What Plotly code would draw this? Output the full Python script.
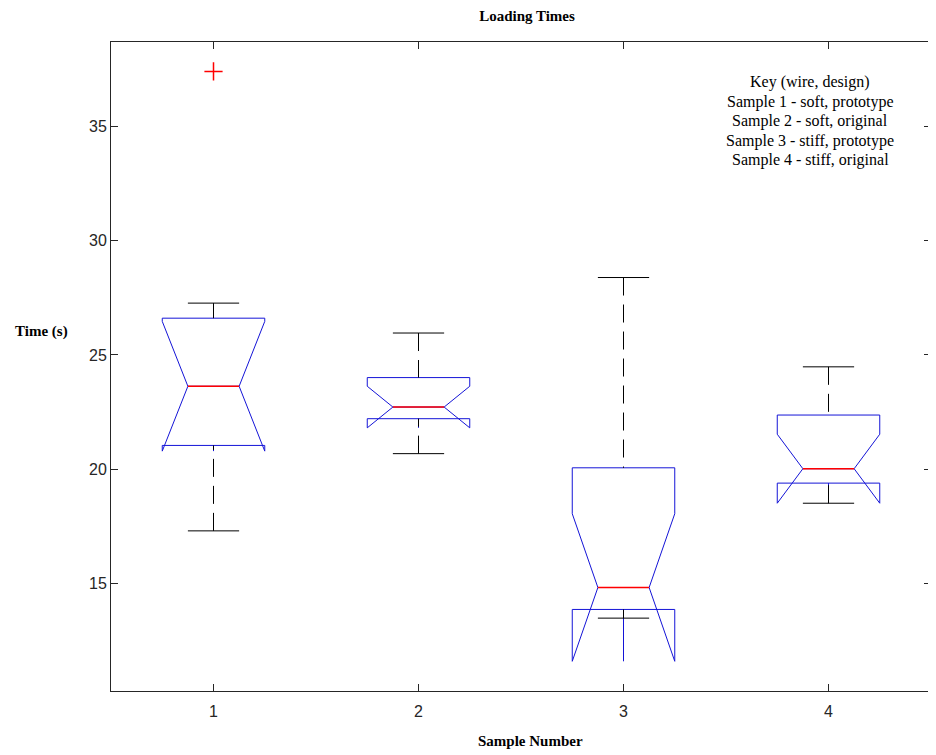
import plotly.graph_objects as go

# ---- data ----
samples = [1, 2, 3, 4]
tick_labels = ["1", "2", "3", "4"]
y_ticks = [15, 20, 25, 30, 35]
q1 = [21.04, 22.21, 13.86, 19.39]
median = [23.63, 22.72, 14.82, 20.02]
q3 = [26.61, 24.01, 20.06, 22.37]
notchspan = [2.84, 0.91, 3.23, 1.51]
lower_whisker = [17.30, 20.68, 13.48, 18.51]
upper_whisker = [27.27, 25.96, 28.39, 24.48]
outlier_x = [1]
outlier_y = [37.41]
key_lines = [
    "Key (wire, design)",
    "Sample 1 - soft, prototype",
    "Sample 2 - soft, original",
    "Sample 3 - stiff, prototype",
    "Sample 4 - stiff, original",
]

BOX_W = 0.5
HALF_NOTCH = BOX_W * 0.25
AX = "#262626"
OFF = 8  # page body margin in the rendered html

W, H = 936 - OFF, 755 - OFF
ML, MR, MT, MB = 111 - OFF, 5, 42 - OFF, 64
PW, PH = W - ML - MR, H - MT - MB

fig = go.Figure()

# blue notched boxes (built-in whiskers hidden: fences set to the quartiles)
fig.add_trace(go.Box(
    x=samples, q1=q1, median=median, q3=q3,
    lowerfence=q1, upperfence=q3, notchspan=notchspan,
    notched=True, notchwidth=0.25, width=BOX_W, whiskerwidth=0,
    line=dict(color="rgb(20,20,215)", width=1),
    fillcolor="rgba(0,0,0,0)", boxpoints=False, showlegend=False,
    hoverinfo="skip",
))

# dashed black whiskers
wx, wy = [], []
for s, a, b, lo, hi in zip(samples, q1, q3, lower_whisker, upper_whisker):
    wx += [s, s, None, s, s, None]
    wy += [hi, b, None, lo, a, None]
fig.add_trace(go.Scatter(x=wx, y=wy, mode="lines",
                         line=dict(color="black", width=1, dash="18px,9px"),
                         showlegend=False, hoverinfo="skip"))

# whisker caps
cx, cy = [], []
for s, lo, hi in zip(samples, lower_whisker, upper_whisker):
    cx += [s - HALF_NOTCH, s + HALF_NOTCH, None, s - HALF_NOTCH, s + HALF_NOTCH, None]
    cy += [hi, hi, None, lo, lo, None]
fig.add_trace(go.Scatter(x=cx, y=cy, mode="lines",
                         line=dict(color="black", width=1),
                         showlegend=False, hoverinfo="skip"))

# red medians
mx, my = [], []
for s, m in zip(samples, median):
    mx += [s - HALF_NOTCH, s + HALF_NOTCH, None]
    my += [m, m, None]
fig.add_trace(go.Scatter(x=mx, y=my, mode="lines",
                         line=dict(color="#ff0000", width=1.5),
                         showlegend=False, hoverinfo="skip"))

# outlier
fig.add_trace(go.Scatter(x=outlier_x, y=outlier_y, mode="markers",
                         marker=dict(symbol="cross-thin", size=13, color="#ff0000",
                                     line=dict(color="#ff0000", width=1.5)),
                         showlegend=False, hoverinfo="skip"))

axis_common = dict(
    showline=True, linecolor=AX, linewidth=1, mirror="allticks",
    ticks="inside", ticklen=7, tickcolor=AX, tickwidth=1,
    showgrid=False, zeroline=False,
    tickfont=dict(family="Liberation Sans, Arial", size=16, color=AX),
)

SERIF = "Liberation Serif, Times New Roman"

fig.update_layout(
    width=W, height=H,
    margin=dict(l=ML, r=MR, t=MT, b=MB),
    paper_bgcolor="white", plot_bgcolor="white",
    title=dict(text="<b>Loading Times</b>", x=(527 - OFF) / W, xanchor="center",
               y=1 - (15.7 - OFF) / H, yanchor="middle",
               font=dict(family=SERIF, size=15, color="black")),
    xaxis=dict(range=[0.5, 4.5], tickvals=samples, ticktext=tick_labels,
               ticklabelstandoff=6, **axis_common),
    yaxis=dict(range=[10.29, 38.70], tickvals=y_ticks,
               ticksuffix="\u00a0", **axis_common),
)

annotations = [
    dict(text="<b>Sample Number</b>", xref="paper", yref="paper",
         x=(530 - 111) / PW, y=-(741 - 691) / PH, xanchor="center", yanchor="middle",
         showarrow=False, font=dict(family=SERIF, size=15, color="black")),
    dict(text="<b>Time (s)</b>", xref="paper", yref="paper",
         x=(41 - 111) / PW, y=1 - (331.7 - 42) / PH, xanchor="center", yanchor="middle",
         showarrow=False, font=dict(family=SERIF, size=15, color="black")),
]
for i, line in enumerate(key_lines):
    annotations.append(dict(
        text=line, xref="paper", yref="paper",
        x=(810 - 111) / PW, y=1 - (82 + 19.6 * i - 42) / PH,
        xanchor="center", yanchor="middle", showarrow=False,
        font=dict(family=SERIF, size=16, color="black")))
fig.update_layout(annotations=annotations)

fig.write_html("out.html")
